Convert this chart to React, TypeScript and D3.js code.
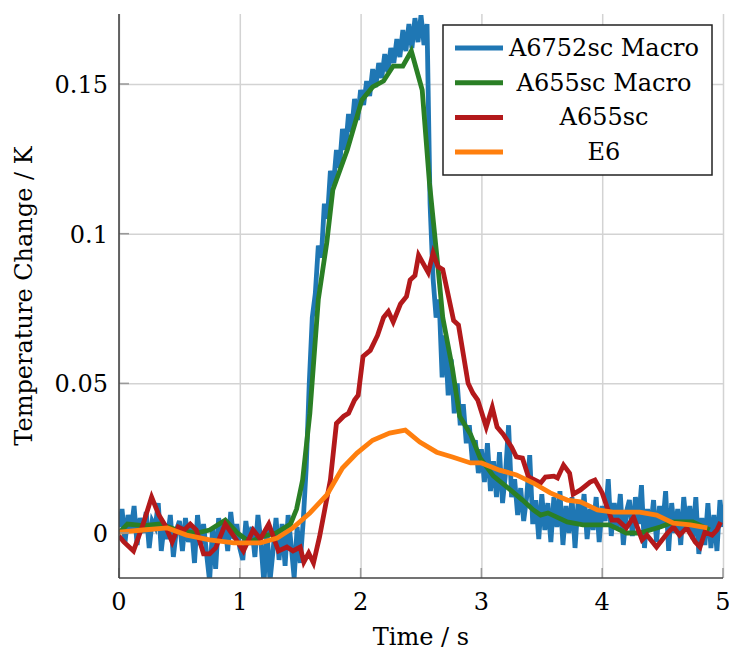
import React, { Component } from "react";
import * as d3 from "d3";

// A6752sc Macro: raw signal, sampled every 0.025 s from 0 to 5 s
const blueVals = [
  0.002, 0.008, -0.003, 0.006, 0.001, 0.009, -0.004, 0.005, 0.0, 0.007,
  -0.005, 0.004, 0.002, 0.01, -0.006, 0.003, -0.002, 0.006, -0.008, 0.001,
  0.004, -0.006, 0.005, -0.003, 0.002, -0.01, 0.006, -0.004, 0.003, -0.007,
  -0.016, 0.002, -0.012, 0.005, -0.003, 0.004, -0.006, 0.007, -0.002, 0.003,
  -0.005, -0.009, 0.004, -0.004, 0.002, -0.008, 0.006, -0.003, -0.017, 0.001,
  -0.016, -0.006, 0.005, -0.009, 0.003, -0.011, 0.006, -0.004, -0.015, 0.002,
  -0.01, 0.004, 0.022, 0.05, 0.072, 0.08, 0.096, 0.092, 0.11, 0.105,
  0.121, 0.116, 0.128, 0.122, 0.135, 0.128, 0.14, 0.134, 0.145, 0.138,
  0.148, 0.143, 0.151, 0.146, 0.155, 0.149, 0.157, 0.152, 0.16, 0.154,
  0.162, 0.157, 0.165, 0.159, 0.168, 0.161, 0.17, 0.162, 0.172, 0.164,
  0.173, 0.163, 0.17, 0.11, 0.085, 0.072, 0.078, 0.052, 0.066, 0.046,
  0.058, 0.04, 0.05, 0.036, 0.043, 0.03, 0.036, 0.024, 0.031, 0.02,
  0.028, 0.017, 0.03, 0.014, 0.024, 0.012, 0.027, 0.01, 0.02, 0.036,
  0.012, 0.018, 0.006, 0.015, 0.004, 0.012, 0.026, 0.003, 0.011, -0.002,
  0.013, 0.001, 0.01, -0.003, 0.012, 0.002, 0.014, -0.004, 0.009, 0.0,
  0.012, -0.005, 0.01, 0.003, 0.013, -0.002, 0.008, 0.001, 0.012, -0.003,
  0.009, 0.004, 0.018, -0.001, 0.01, 0.002, 0.013, -0.004, 0.007, 0.011,
  -0.001, 0.012, 0.003, 0.016, -0.005, 0.008, 0.001, 0.011, -0.003, 0.009,
  0.002, 0.014, -0.006, 0.01, 0.0, 0.008, -0.004, 0.012, 0.001, 0.009,
  -0.002, 0.012, -0.007, 0.005, -0.004, 0.01, -0.005, 0.006, -0.006, 0.011,
  0.002
];
const blueTime = blueVals.map((v, i) => i * 0.025);

// A655sc Macro
const greenTime = [
  0, 0.07, 0.2, 0.34, 0.48, 0.64, 0.75, 0.88, 0.98, 1.08, 1.2, 1.3, 1.42,
  1.47, 1.52, 1.58, 1.65, 1.72, 1.77, 1.89, 2.01, 2.1, 2.19, 2.27, 2.35,
  2.42, 2.51, 2.57, 2.64, 2.68, 2.76, 2.82, 2.91, 2.99, 3.1, 3.24, 3.34,
  3.43, 3.49, 3.55, 3.71, 3.84, 4.06, 4.2, 4.31, 4.48, 4.59, 4.75, 4.89
];
const greenVals = [
  0.0, 0.003, 0.0025, 0.003, 0.001, 0.0, 0.001, 0.0043, 0.0, -0.003, -0.001,
  0.0, 0.003, 0.008, 0.0177, 0.04, 0.078, 0.097, 0.1146, 0.128, 0.1446,
  0.149, 0.151, 0.156, 0.156, 0.161, 0.148, 0.117, 0.089, 0.072, 0.055,
  0.039, 0.033, 0.025, 0.019, 0.0144, 0.011, 0.0077, 0.006, 0.0067, 0.0037,
  0.0027, 0.0027, 0.0, 0.0, 0.002, 0.0037, 0.0037, 0.001
];

// A655sc
const redTime = [
  0, 0.04, 0.12, 0.2, 0.27, 0.33, 0.38, 0.44, 0.49, 0.54, 0.59, 0.64, 0.7,
  0.75, 0.8, 0.88, 0.95, 1.03, 1.11, 1.17, 1.24, 1.32, 1.39, 1.44, 1.5,
  1.53, 1.57, 1.61, 1.66, 1.75, 1.8, 1.86, 1.9, 1.95, 1.98, 2.02, 2.08,
  2.14, 2.19, 2.23, 2.27, 2.33, 2.38, 2.41, 2.45, 2.48, 2.56, 2.6, 2.64,
  2.68, 2.77, 2.81, 2.89, 2.93, 2.97, 3.04, 3.09, 3.13, 3.18, 3.25, 3.29,
  3.34, 3.39, 3.44, 3.49, 3.53, 3.6, 3.63, 3.68, 3.73, 3.76, 3.82, 3.9,
  3.94, 4.0, 4.04, 4.08, 4.13, 4.2, 4.26, 4.33, 4.37, 4.45, 4.54, 4.59,
  4.64, 4.7, 4.77, 4.81, 4.85, 4.91, 4.95, 4.98
];
const redVals = [
  -0.001, -0.003, -0.006, 0.003, 0.012, 0.006, 0.0027, -0.003, 0.002, 0.001,
  0.003, 0.001, -0.007, -0.007, -0.005, 0.003, -0.001, -0.006, 0.001, -0.002,
  0.003, -0.006, -0.0047, -0.006, -0.0047, -0.0097, -0.0067, -0.01, -0.0013,
  0.0177, 0.0366, 0.039, 0.04, 0.0444, 0.046, 0.059, 0.061, 0.066, 0.072,
  0.074, 0.0705, 0.0765, 0.079, 0.0845, 0.086, 0.0928, 0.087, 0.0935, 0.089,
  0.088, 0.071, 0.0695, 0.05, 0.0467, 0.0444, 0.0354, 0.042, 0.0354, 0.033,
  0.0287, 0.0254, 0.025, 0.0187, 0.0177, 0.0167, 0.0187, 0.019, 0.0184,
  0.0227, 0.02, 0.013, 0.0144, 0.017, 0.0177, 0.0134, 0.0087, 0.0043, 0.0043,
  0.0017, 0.0053, -0.0023, -0.0007, -0.0047, 0.0, 0.002, -0.0007, 0.0017,
  -0.003, -0.0047, 0.0003, -0.0007, 0.001, 0.0037
];

// E6
const e6Time = [
  0, 0.2, 0.4, 0.56, 0.75, 0.95, 1.17, 1.31, 1.44, 1.58, 1.72, 1.85, 1.97,
  2.1, 2.24, 2.37, 2.49, 2.63, 2.76, 2.91, 3.0, 3.15, 3.29, 3.43, 3.57,
  3.71, 3.82, 3.96, 4.09, 4.31, 4.45, 4.59, 4.73, 4.87
];
const e6Vals = [
  0.0003, 0.001, 0.0017, -0.0007, -0.0023, -0.0033, -0.0033, -0.0017, 0.0017,
  0.0067, 0.0127, 0.0217, 0.0267, 0.031, 0.0334, 0.0344, 0.0304, 0.027,
  0.0254, 0.0234, 0.0234, 0.021, 0.0194, 0.0167, 0.0134, 0.011, 0.0104,
  0.0077, 0.007, 0.007, 0.006, 0.0033, 0.0027, 0.0017
];

const seriesNames = ["A6752sc Macro", "A655sc Macro", "A655sc", "E6"];
const seriesColors = ["#1f77b4", "#2a7f25", "#b3191b", "#ff7f0e"];
const xTicks = [0, 1, 2, 3, 4, 5];
const yTicks = [0, 0.05, 0.1, 0.15];
const yTickLabels = ["0", "0.05", "0.1", "0.15"];

const FONT = "DejaVu Serif";
const FONT_SIZE = 24;

class App extends Component {
  node: SVGSVGElement | null = null;

  componentDidMount() {
    this.drawGraph();
  }

  drawGraph() {
    const svg = d3.select(this.node);
    svg.selectAll("*").remove();

    const left = 119;
    const right = 723;
    const top = 14;
    const bottom = 578;

    const x = d3.scaleLinear().domain([0, 5]).range([left, right]);
    const y = d3.scaleLinear().domain([0, 0.15]).range([533, 84]);

    svg
      .append("defs")
      .append("clipPath")
      .attr("id", "plot-clip")
      .append("rect")
      .attr("x", left)
      .attr("y", top)
      .attr("width", right - left)
      .attr("height", bottom - top);

    // grid
    const xGrid = d3
      .axisBottom(x)
      .tickValues(xTicks)
      .tickSize(-(bottom - top))
      .tickFormat(() => "");
    const yGrid = d3
      .axisLeft(y)
      .tickValues(yTicks)
      .tickSize(-(right - left))
      .tickFormat(() => "");
    const gx = svg
      .append("g")
      .attr("transform", "translate(0," + bottom + ")")
      .call(xGrid);
    const gy = svg
      .append("g")
      .attr("transform", "translate(" + left + ",0)")
      .call(yGrid);
    [gx, gy].forEach(g => {
      g.select(".domain").remove();
      g.selectAll("line").attr("stroke", "#d3d3d3").attr("stroke-width", 1.5);
    });

    // data lines
    const plot = svg.append("g").attr("clip-path", "url(#plot-clip)");
    const series = [
      [blueTime, blueVals],
      [greenTime, greenVals],
      [redTime, redVals],
      [e6Time, e6Vals]
    ];
    const line = d3
      .line<[number, number]>()
      .x(d => x(d[0]))
      .y(d => y(d[1]));
    series.forEach((s, i) => {
      const pts = s[0].map((t, j) => [t, s[1][j]] as [number, number]);
      plot
        .append("path")
        .datum(pts)
        .attr("fill", "none")
        .attr("stroke", seriesColors[i])
        .attr("stroke-width", 4.8)
        .attr("d", line);
    });

    // small inward ticks
    xTicks.forEach(t => {
      svg
        .append("line")
        .attr("x1", x(t))
        .attr("x2", x(t))
        .attr("y1", bottom)
        .attr("y2", bottom - 10)
        .attr("stroke", "#999")
        .attr("stroke-width", 1.5);
    });
    yTicks.forEach(t => {
      svg
        .append("line")
        .attr("x1", left)
        .attr("x2", left + 10)
        .attr("y1", y(t))
        .attr("y2", y(t))
        .attr("stroke", "#999")
        .attr("stroke-width", 1.5);
    });

    // axis lines
    svg
      .append("line")
      .attr("x1", left)
      .attr("x2", left)
      .attr("y1", top)
      .attr("y2", bottom)
      .attr("stroke", "#444")
      .attr("stroke-width", 1.6);
    svg
      .append("line")
      .attr("x1", left)
      .attr("x2", right)
      .attr("y1", bottom)
      .attr("y2", bottom)
      .attr("stroke", "#444")
      .attr("stroke-width", 1.6);

    const labels = svg
      .append("g")
      .style("font-family", FONT)
      .style("font-size", FONT_SIZE + "px");

    // tick labels
    xTicks.forEach(t => {
      labels
        .append("text")
        .attr("x", x(t))
        .attr("y", 610)
        .attr("text-anchor", "middle")
        .text(String(t));
    });
    yTicks.forEach((t, i) => {
      labels
        .append("text")
        .attr("x", 108)
        .attr("y", y(t) + 9)
        .attr("text-anchor", "end")
        .text(yTickLabels[i]);
    });

    // axis titles
    labels
      .append("text")
      .attr("x", (left + right) / 2)
      .attr("y", 645)
      .attr("text-anchor", "middle")
      .text("Time / s");
    labels
      .append("text")
      .attr("transform", "translate(32,296) rotate(-90)")
      .attr("text-anchor", "middle")
      .text("Temperature Change / K");

    // legend
    const legend = svg
      .append("g")
      .style("font-family", FONT)
      .style("font-size", FONT_SIZE + "px");
    legend
      .append("rect")
      .attr("x", 443)
      .attr("y", 25)
      .attr("width", 269)
      .attr("height", 150)
      .attr("fill", "white")
      .attr("stroke", "#222")
      .attr("stroke-width", 1.5);
    seriesNames.forEach((name, i) => {
      const ry = 48 + i * 34.7;
      legend
        .append("line")
        .attr("x1", 455)
        .attr("x2", 503)
        .attr("y1", ry)
        .attr("y2", ry)
        .attr("stroke", seriesColors[i])
        .attr("stroke-width", 5);
      legend
        .append("text")
        .attr("x", 604)
        .attr("y", ry + 8)
        .attr("text-anchor", "middle")
        .text(name);
    });
  }

  render() {
    return (
      <svg
        ref={el => {
          this.node = el;
        }}
        width={729}
        height={652}
        style={{ position: "absolute", left: 0, top: 0, background: "white" }}
      ></svg>
    );
  }
}

export default App;
